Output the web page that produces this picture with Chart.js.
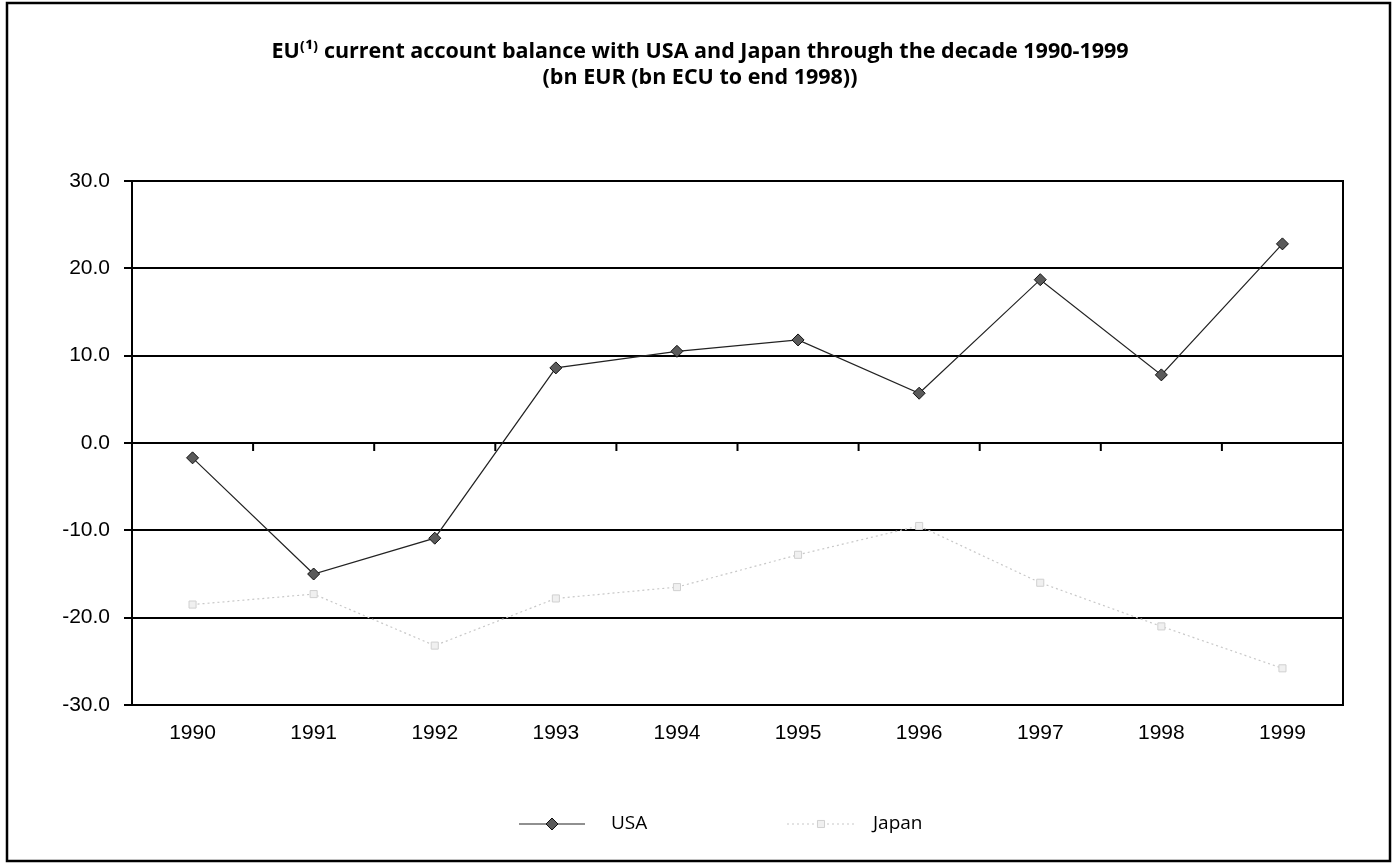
<!DOCTYPE html>
<html>
<head>
<meta charset="utf-8">
<script src="https://cdn.jsdelivr.net/npm/chart.js@4/dist/chart.umd.min.js"></script>
<style>
  html, body { margin: 0; padding: 0; background: #fff; }
  #wrap { width: 1396px; height: 865px; }
</style>
</head>
<body>
<div id="wrap"><canvas id="balanceChart" width="1396" height="865"></canvas></div>
<script>
const years = ["1990", "1991", "1992", "1993", "1994", "1995", "1996", "1997", "1998", "1999"];
const usaBalance = [-1.7, -15.0, -10.9, 8.6, 10.5, 11.8, 5.7, 18.7, 7.8, 22.8];
const japanBalance = [-18.5, -17.3, -23.2, -17.8, -16.5, -12.8, -9.5, -16.0, -21.0, -25.8];
const yTicks = [-30, -20, -10, 0, 10, 20, 30];

const titleLines = [
  "EU\u207D\u00B9\u207E current account balance with USA and Japan through the decade 1990-1999",
  "(bn EUR (bn ECU to end 1998))",
];

// outer frame, title, box round the plot area and the little ticks on the zero line
const framePlugin = {
  id: "frame",
  beforeDraw(chart) {
    const { ctx, width, height } = chart;
    ctx.save();
    ctx.fillStyle = "#fff";
    ctx.fillRect(0, 0, width, height);
    ctx.restore();
  },
  afterDraw(chart) {
    const { ctx, chartArea } = chart;
    const x = chart.scales.x;
    const y = chart.scales.y;
    ctx.save();
    ctx.strokeStyle = "#000";
    ctx.lineWidth = 2.5;
    ctx.strokeRect(7, 3, 1383, 858);

    // title centred on the frame, not on the plot
    ctx.fillStyle = "#000";
    ctx.font = "bold 21.5px 'Open Sans'";
    ctx.textAlign = "center";
    ctx.textBaseline = "middle";
    titleLines.forEach((t, i) => ctx.fillText(t, 700, 52 + i * 26));

    ctx.lineWidth = 2;
    ctx.strokeRect(chartArea.left, chartArea.top, chartArea.right - chartArea.left, chartArea.bottom - chartArea.top);

    const zero = y.getPixelForValue(0);
    for (let i = 0; i <= years.length; i++) {
      const px = x.getPixelForValue(i - 0.5);
      ctx.beginPath();
      ctx.moveTo(px, zero);
      ctx.lineTo(px, zero + 8);
      ctx.stroke();
    }
    ctx.restore();
  },
};

// legend drawn like the Excel one: a line with the marker on it
const lineLegendPlugin = {
  id: "lineLegend",
  afterDraw(chart) {
    const { ctx } = chart;
    const items = [
      { ds: chart.data.datasets[0], x0: 519, x1: 585, tx: 611 },
      { ds: chart.data.datasets[1], x0: 787, x1: 855, tx: 873 },
    ];
    const ly = 824;
    ctx.save();
    items.forEach(({ ds, x0, x1, tx }) => {
      ctx.strokeStyle = ds.borderColor;
      ctx.lineWidth = ds.borderWidth;
      ctx.setLineDash(ds.borderDash || []);
      ctx.beginPath();
      ctx.moveTo(x0, ly);
      ctx.lineTo(x1, ly);
      ctx.stroke();
      ctx.setLineDash([]);
      ctx.fillStyle = ds.pointBackgroundColor;
      ctx.strokeStyle = ds.pointBorderColor;
      ctx.lineWidth = ds.pointBorderWidth;
      Chart.helpers.drawPoint(ctx, {
        pointStyle: ds.pointStyle,
        radius: ds.pointRadius,
        borderWidth: ds.pointBorderWidth,
      }, (x0 + x1) / 2, ly);
      ctx.fillStyle = "#000";
      ctx.font = "19px 'Open Sans'";
      ctx.textBaseline = "middle";
      ctx.fillText(ds.label, tx, ly);
    });
    ctx.restore();
  },
};

const ctx = document.getElementById("balanceChart").getContext("2d");

new Chart(ctx, {
  type: "line",
  data: {
    labels: years,
    datasets: [
      {
        label: "USA",
        data: usaBalance,
        borderColor: "#222",
        borderWidth: 1.2,
        pointStyle: "rectRot",
        pointRadius: 6,
        pointBackgroundColor: "#5a5a5a",
        pointBorderColor: "#111",
        pointBorderWidth: 1,
        tension: 0,
      },
      {
        label: "Japan",
        data: japanBalance,
        borderColor: "#c8c8c8",
        borderWidth: 1.2,
        borderDash: [2, 3],
        pointStyle: "rect",
        pointRadius: 5,
        pointBackgroundColor: "#f0f0f0",
        pointBorderColor: "#d0d0d0",
        pointBorderWidth: 1,
        tension: 0,
      },
    ],
  },
  options: {
    responsive: false,
    animation: false,
    layout: {
      padding: { left: 0, right: 53, top: 181, bottom: 120 },
    },
    plugins: {
      legend: { display: false },
      tooltip: { enabled: false },
      title: { display: false },
    },
    scales: {
      x: {
        type: "category",
        offset: true,
        grid: { display: false, drawTicks: false },
        border: { display: false },
        ticks: {
          color: "#000",
          padding: 16,
          maxRotation: 0,
          autoSkip: false,
          font: { family: "'Liberation Sans'", size: 21 },
        },
        afterFit(scale) {
          scale.height = 40;
        },
      },
      y: {
        min: -30,
        max: 30,
        afterBuildTicks(scale) {
          scale.ticks = yTicks.map((v) => ({ value: v }));
        },
        grid: {
          color: "#000",
          lineWidth: 2,
          tickLength: 8,
        },
        border: { display: true, color: "#000", width: 2 },
        ticks: {
          color: "#000",
          padding: 14,
          font: { family: "'Liberation Sans'", size: 21 },
          callback: (v) => Number(v).toFixed(1),
        },
        afterFit(scale) {
          scale.width = 132;
        },
      },
    },
  },
  plugins: [framePlugin, lineLegendPlugin],
});
</script>
</body>
</html>
